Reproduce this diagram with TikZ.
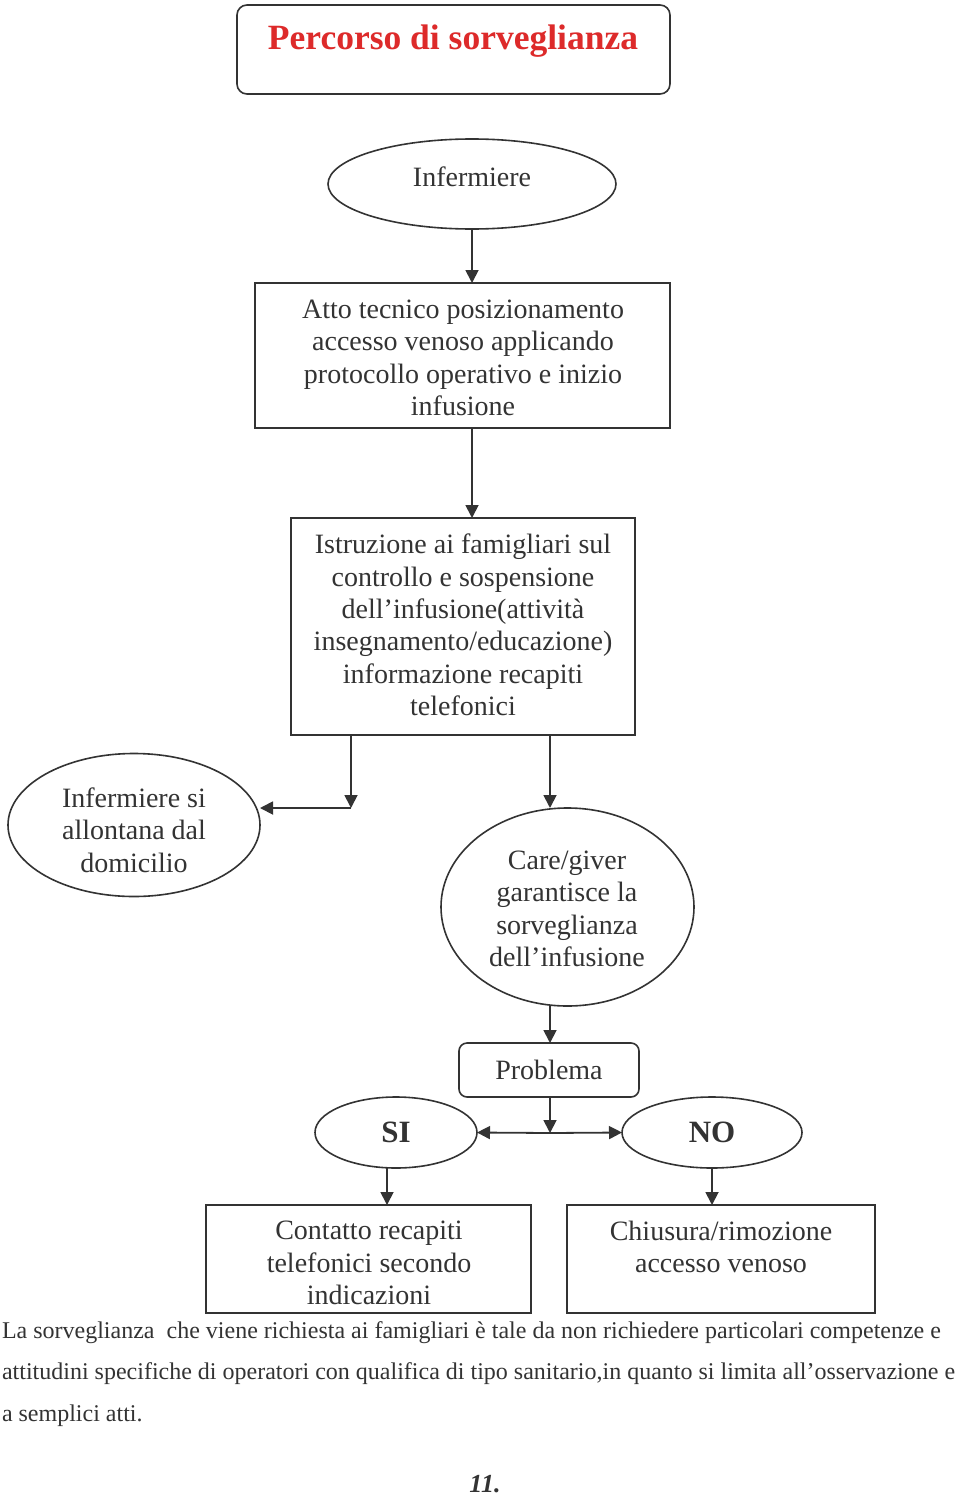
\documentclass[tikz,border=0pt]{standalone}
\usepackage{fontspec}
\setmainfont{Liberation Serif}
\usetikzlibrary{shapes.geometric,arrows.meta}
\definecolor{ttlred}{HTML}{DD2A2A}
\definecolor{ink}{HTML}{333333}
\tikzset{
  x=1pt,y=-1pt,
  every node/.style={inner sep=0pt,outer sep=0pt,text=ink},
  txt/.style={font=\fontsize{28}{32.3}\selectfont,align=center},
  rbox/.style={draw=ink,line width=1.6pt,rectangle,txt},
  ell/.style={draw=ink,line width=1.6pt,ellipse,txt},
  arr/.style={draw=ink,line width=1.8pt,-{Triangle[length=13pt,width=13pt]}},
  body/.style={font=\fontsize{24}{26}\selectfont,anchor=base west},
}
\begin{document}
\begin{tikzpicture}
\useasboundingbox[fill=white] (0,0) rectangle (960,1496);
% title
\node[draw=ink,line width=1.6pt,rounded corners=10pt,minimum width=433pt,minimum height=89pt] (title) at (453.5,49.5) {};
\node[font=\fontsize{35.5}{40}\selectfont\bfseries,text=ttlred] (ttltxt) at (453,41) {Percorso di sorveglianza};
% nodes
\node[ell,minimum width=288pt,minimum height=90pt] (inf) at (472,184) {};
\node[txt] (inftxt) at (472,177) {Infermiere};
\node[rbox,minimum width=415pt,minimum height=145pt] (b1) at (462.5,355.5) {};
\node[txt] (b1txt) at (463,358) {Atto tecnico posizionamento\\accesso venoso applicando\\protocollo operativo e inizio\\infusione};
\node[rbox,minimum width=344pt,minimum height=217pt] (b2) at (463,626.5) {};
\node[txt] (b2txt) at (463,625) {Istruzione ai famigliari sul\\controllo e sospensione\\dell’infusione(attività\\insegnamento/educazione)\\informazione recapiti\\telefonici};
\node[ell,minimum width=252pt,minimum height=143pt] (left) at (134,825) {};
\node[txt] (lefttxt) at (134,830) {Infermiere si\\allontana dal\\domicilio};
\node[ell,minimum width=253pt,minimum height=198pt] (care) at (567.5,907) {};
\node[txt] (caretxt) at (567,909) {Care/giver\\garantisce la\\sorveglianza\\dell’infusione};
\node[rbox,rounded corners=8pt,minimum width=180pt,minimum height=54pt] (prob) at (549,1070) {Problema};
\node[ell,minimum width=162pt,minimum height=71pt,font=\fontsize{31}{34}\selectfont\bfseries] (si) at (396,1132.5) {SI};
\node[ell,minimum width=180pt,minimum height=71pt,font=\fontsize{31}{34}\selectfont\bfseries] (no) at (712,1132.5) {NO};
\node[rbox,minimum width=325pt,minimum height=108pt] (c1) at (368.5,1259) {};
\node[txt] (c1txt) at (369,1263) {Contatto recapiti\\telefonici secondo\\indicazioni};
\node[rbox,minimum width=308pt,minimum height=108pt] (c2) at (721,1259) {};
\node[txt] (c2txt) at (721,1247) {Chiusura/rimozione\\accesso venoso};
% coordinates
\coordinate (j1) at (351,808);
\coordinate (j2) at (550,808);
\coordinate (j3) at (550,1133);
\coordinate (j4) at (387,1168);
% connectors
\draw[arr] (inf.south) -- (inf.south |- b1.north);
\draw[arr] (b1.south -| inf.south) -- (b2.north -| inf.south);
\draw[arr] (b2.south -| j1) -- (j1);
\draw[arr] (j1) -- (j1 -| left.east);
\draw[arr] (b2.south -| j2) -- (j2);
\draw[arr] (care.south -| j2) -- (prob.north -| j2);
\draw[arr] (prob.south -| j3) -- (j3);
\draw[arr] (j3) -- (si.east);
\draw[arr] (j3) -- (no.west);
\draw[arr] (j4) -- (j4 |- c1.north);
\draw[arr] (no.south) -- (no.south |- c2.north);
% bottom text
\node[body] (t1) at (2,1338) {La sorveglianza\ \ che viene richiesta ai famigliari è tale da non richiedere particolari competenze e};
\node[body] (t2) at (2,1379) {attitudini specifiche di operatori con qualifica di tipo sanitario,in quanto si limita all’osservazione e};
\node[body] (t3) at (2,1421) {a semplici atti.};
\node[font=\fontsize{26}{28}\selectfont\bfseries\itshape] (pg) at (485,1484) {11.};
\end{tikzpicture}
\end{document}
